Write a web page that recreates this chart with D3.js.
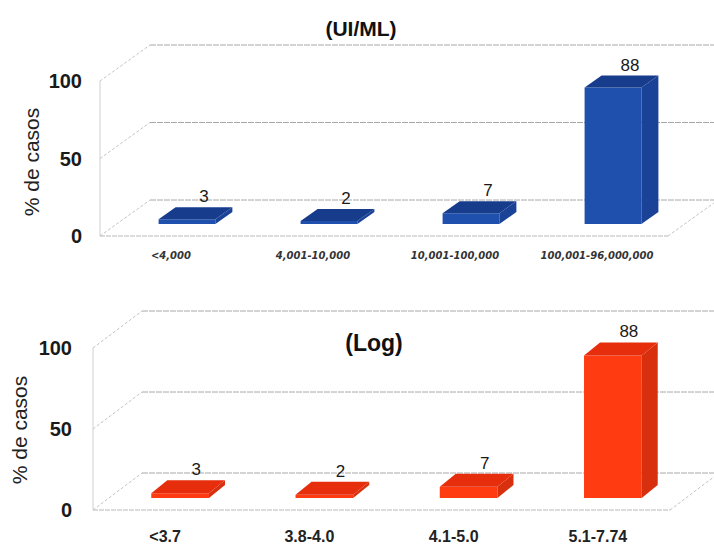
<!DOCTYPE html>
<html>
<head>
<meta charset="utf-8">
<script src="https://cdn.jsdelivr.net/npm/d3@7"></script>
<style>
  html, body { margin: 0; padding: 0; background: #fff; }
  svg { display: block; }
</style>
</head>
<body>
<svg id="chart" width="714" height="545"></svg>
<script>
// Viral load groups (UI/ML) and their log equivalents
const categoriesUI = ["<4,000", "4,001-10,000", "10,001-100,000", "100,001-96,000,000"];
const percentUI = [3, 2, 7, 88];
const categoriesLog = ["<3.7", "3.8-4.0", "4.1-5.0", "5.1-7.74"];
const percentLog = [3, 2, 7, 88];
const yTicks = [0, 50, 100];
const yTickLabels = ["0", "50", "100"];

const svg = d3.select("#chart");

// Draws one pseudo-3D column chart: a back wall, a left wall, a floor and prism bars.
function drawPanel(cfg) {
  const g = svg.append("g");
  const y = d3.scaleLinear().domain([0, 100]).range([cfg.y0, cfg.yTop]);
  const x = d3.scaleBand().domain(cfg.categories).range([cfg.x0, cfg.x1])
    .paddingInner(0.6).paddingOuter(0.3);
  const wdx = cfg.wallDx, wdy = cfg.wallDy;

  const line = (x1, y1, x2, y2, stroke, dash) => g.append("line")
    .attr("x1", x1).attr("y1", y1).attr("x2", x2).attr("y2", y2)
    .attr("stroke", stroke).attr("stroke-width", 1)
    .attr("stroke-dasharray", dash || null);

  // back wall gridlines and left wall diagonals
  yTicks.forEach(t => {
    line(cfg.x0 + wdx, y(t) + wdy, cfg.x1 + wdx, y(t) + wdy, "#a8a8a8", "6,1");
    line(cfg.x0, y(t), cfg.x0 + wdx, y(t) + wdy, "#c4c4c4", "3,2");
  });
  // front-left edge of the left wall
  line(cfg.x0, y(100), cfg.x0, y(0), "#cfcfcf");
  // floor edges
  line(cfg.x0, y(0), cfg.x1, y(0), "#b8b8b8", "5,1");
  line(cfg.x1, y(0), cfg.x1 + wdx, y(0) + wdy, "#c4c4c4", "3,2");

  // tick labels
  g.selectAll("text.tick").data(yTicks).join("text")
    .attr("class", "tick")
    .attr("x", cfg.x0 - cfg.tickGap)
    .attr("y", d => y(d))
    .attr("dy", "0.36em")
    .attr("text-anchor", "end")
    .attr("font-family", "Liberation Sans, Arial, sans-serif")
    .attr("font-weight", "bold")
    .attr("font-size", 20)
    .attr("fill", "#1a1a1a")
    .text((d, i) => yTickLabels[i]);

  // axis title
  g.append("text")
    .attr("transform", `translate(${cfg.yTitleX},${cfg.yTitleY}) rotate(-90)`)
    .attr("text-anchor", "middle")
    .attr("dy", "0.36em")
    .attr("font-family", "Liberation Sans, Arial, sans-serif")
    .attr("font-size", 21)
    .attr("fill", "#222")
    .text("% de casos");

  // panel title
  g.append("text")
    .attr("x", cfg.titleX).attr("y", cfg.titleY)
    .attr("text-anchor", "middle")
    .attr("font-family", "Liberation Sans, Arial, sans-serif")
    .attr("font-weight", "bold")
    .attr("font-size", cfg.titleSize)
    .attr("fill", "#111")
    .text(cfg.title);

  // bars as prisms
  const bw = x.bandwidth();
  const fx = cfg.barOffsetX, fy = cfg.barOffsetY;
  const ddx = cfg.barDx, ddy = cfg.barDy;
  const bars = g.selectAll("g.bar").data(cfg.categories.map((c, i) => ({ c, v: cfg.values[i] })))
    .join("g").attr("class", "bar");
  const pts = a => a.map(p => p.join(",")).join(" ");
  bars.each(function (d) {
    const b = d3.select(this);
    const L = x(d.c) + fx, R = L + bw;
    const B = y(0) + fy, T = y(d.v) + fy;
    // front face
    b.append("polygon").attr("points", pts([[L, B], [R, B], [R, T], [L, T]]))
      .attr("fill", cfg.colors.front);
    // right side
    b.append("polygon").attr("points", pts([[R, B], [R + ddx, B + ddy], [R + ddx, T + ddy], [R, T]]))
      .attr("fill", cfg.colors.side);
    // top
    b.append("polygon").attr("points", pts([[L, T], [R, T], [R + ddx, T + ddy], [L + ddx, T + ddy]]))
      .attr("fill", cfg.colors.top);
    // value label
    b.append("text")
      .attr("x", (L + R) / 2 + ddx)
      .attr("y", T + ddy - 5)
      .attr("text-anchor", "middle")
      .attr("font-family", "Liberation Sans, Arial, sans-serif")
      .attr("font-size", 17)
      .attr("fill", "#1a1a1a")
      .text(d.v);
  });

  // category labels
  g.selectAll("text.cat").data(cfg.categories).join("text")
    .attr("class", "cat")
    .attr("x", d => x(d) + bw / 2)
    .attr("y", cfg.catY)
    .attr("text-anchor", "middle")
    .attr("font-family", cfg.catFont)
    .attr("font-weight", "bold")
    .attr("font-style", cfg.catStyle)
    .attr("font-size", cfg.catSize)
    .attr("fill", cfg.catFill)
    .text(d => d);
}

drawPanel({
  categories: categoriesUI, values: percentUI,
  x0: 100, x1: 668, y0: 236, yTop: 81,
  wallDx: 50, wallDy: -36,
  barOffsetX: 16, barOffsetY: -12, barDx: 17, barDy: -12,
  tickGap: 18,
  yTitleX: 31, yTitleY: 162,
  title: "(UI/ML)", titleX: 361, titleY: 36, titleSize: 21,
  catY: 259, catSize: 10, catStyle: "italic", catFont: "DejaVu Sans, Verdana, sans-serif", catFill: "#333",
  colors: { front: "#1f50ad", side: "#1a4296", top: "#173c8c" }
});

drawPanel({
  categories: categoriesLog, values: percentLog,
  x0: 93, x1: 670, y0: 510, yTop: 348,
  wallDx: 49, wallDy: -37,
  barOffsetX: 15, barOffsetY: -12, barDx: 16, barDy: -13,
  tickGap: 21,
  yTitleX: 19, yTitleY: 430,
  title: "(Log)", titleX: 374, titleY: 351, titleSize: 23,
  catY: 542, catSize: 16, catStyle: "normal", catFont: "Liberation Sans, Arial, sans-serif", catFill: "#222",
  colors: { front: "#ff3b12", side: "#d8300e", top: "#e62e0c" }
});
</script>
</body>
</html>
